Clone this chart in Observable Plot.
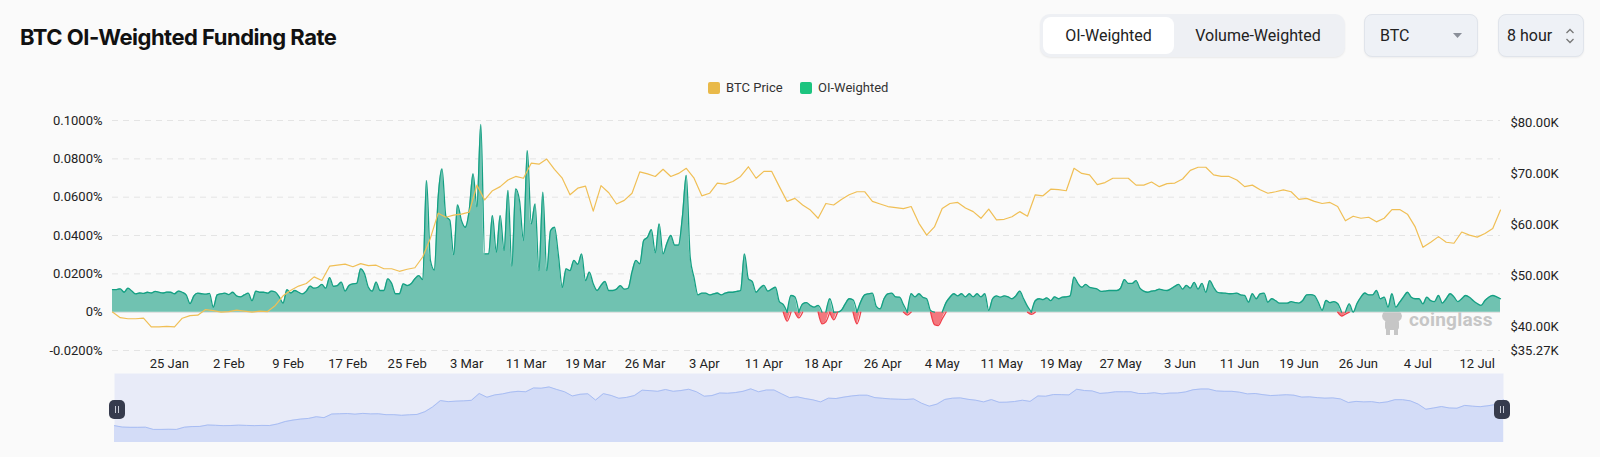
<!DOCTYPE html>
<html><head><meta charset="utf-8">
<script src="https://cdn.jsdelivr.net/npm/d3@7"></script>
<script src="https://cdn.jsdelivr.net/npm/@observablehq/plot@0.6"></script>
<style>
html,body{margin:0;padding:0;background:#fafafa;}
#root{position:relative;width:1600px;height:457px;overflow:hidden;font-family:Roboto,"Noto Sans",sans-serif;color:#1f2329;}
.abs{position:absolute;}
#title{left:20px;top:20px;font-family:Inter,sans-serif;font-weight:700;font-size:22px;letter-spacing:-0.5px;line-height:34px;color:#111;}
.grp{left:1040px;top:14px;width:305px;height:43px;background:#eef0f4;border-radius:10px;box-shadow:0 1px 2px rgba(0,0,0,0.07);}
.btn{height:37px;line-height:37px;text-align:center;font-size:16px;color:#222;}
.sel{top:14px;height:41px;background:#eef1f6;border:1px solid #e0e4eb;border-radius:8px;box-shadow:0 1px 2px rgba(0,0,0,0.05);font-size:16px;line-height:41px;color:#222;}
.leg{top:81px;font-size:13px;line-height:14px;color:#333;}
.sw{width:12px;height:12px;border-radius:2px;top:82px;}
.handle{top:400px;width:16px;height:19px;background:#363b4d;border-radius:5px;}
.handle:before,.handle:after{content:"";position:absolute;top:6px;width:1px;height:7px;background:#c9ccd6;}
.handle:before{left:6px}.handle:after{left:9px}
#wm{left:1409px;top:309px;font-size:19px;font-weight:700;color:#c6c6c6;letter-spacing:0.2px;line-height:22px;}
</style></head>
<body><div id="root">
<div id="title" class="abs">BTC OI-Weighted Funding Rate</div>
<div class="abs grp"></div>
<div class="abs btn" style="left:1043px;top:17px;width:131px;background:#fff;border-radius:8px;">OI-Weighted</div>
<div class="abs btn" style="left:1174px;top:17px;width:168px;">Volume-Weighted</div>
<div class="abs sel" style="left:1364px;width:112px;"><span style="position:absolute;left:15px;">BTC</span>
<svg style="position:absolute;left:88px;top:18px" width="10" height="6"><path d="M0,0 L9,0 L4.5,5 Z" fill="#8a8f99"/></svg></div>
<div class="abs sel" style="left:1498px;width:84px;"><span style="position:absolute;left:8px;">8 hour</span>
<svg style="position:absolute;left:66px;top:13px" width="10" height="16"><path d="M1.5,5 L5,1.5 L8.5,5 M1.5,11 L5,14.5 L8.5,11" stroke="#777" stroke-width="1.3" fill="none"/></svg></div>
<div class="abs sw" style="left:708px;background:#e9b949;"></div>
<div class="abs leg" style="left:726px;">BTC Price</div>
<div class="abs sw" style="left:800px;background:#1cc47f;"></div>
<div class="abs leg" style="left:818px;">OI-Weighted</div>
<svg class="abs" style="left:1380px;top:308px" width="26" height="28"><ellipse cx="12" cy="8" rx="10" ry="7" fill="#c6c6c6"/><rect x="5" y="12" width="14" height="10" rx="3" fill="#c6c6c6"/><rect x="6" y="21" width="4" height="6" fill="#c6c6c6"/><rect x="14" y="21" width="4" height="6" fill="#c6c6c6"/></svg>
<div id="wm" class="abs">coinglass</div>
<div id="chart" class="abs" style="left:0;top:0;"></div>
<div id="slider" class="abs" style="left:0;top:373px;"></div>
<div class="abs handle" style="left:109px;"></div>
<div class="abs handle" style="left:1494px;"></div>
</div>
<script>
// 12-hour OI-weighted funding rate (%), starting 2024-01-18 00:00 UTC
const funding = [
0.0118,0.0118,0.0122,0.0104,0.0125,0.0110,0.0095,0.0100,0.0098,0.0104,
0.0100,0.0108,0.0104,0.0100,0.0105,0.0104,0.0096,0.0110,0.0104,0.0090,
0.0045,0.0085,0.0099,0.0096,0.0094,0.0098,0.0026,0.0090,0.0096,0.0099,
0.0092,0.0104,0.0085,0.0080,0.0090,0.0099,0.0060,0.0110,0.0104,0.0104,
0.0099,0.0110,0.0105,0.0080,0.0047,0.0117,0.0100,0.0113,0.0104,0.0095,
0.0110,0.0136,0.0125,0.0130,0.0145,0.0125,0.0180,0.0135,0.0139,0.0157,
0.0110,0.0139,0.0148,0.0150,0.0226,0.0200,0.0130,0.0110,0.0157,0.0113,
0.0113,0.0174,0.0150,0.0096,0.0096,0.0148,0.0139,0.0148,0.0174,0.0191,
0.0170,0.0687,0.0270,0.0220,0.0600,0.0748,0.0500,0.0480,0.0300,0.0560,
0.0478,0.0443,0.0530,0.0722,0.0550,0.0979,0.0304,0.0304,0.0504,0.0313,
0.0504,0.0322,0.0635,0.0240,0.0643,0.0580,0.0374,0.0843,0.0461,0.0565,
0.0217,0.0626,0.0217,0.0426,0.0443,0.0300,0.0130,0.0226,0.0217,0.0270,
0.0250,0.0304,0.0165,0.0209,0.0148,0.0113,0.0140,0.0160,0.0113,0.0113,
0.0120,0.0139,0.0120,0.0125,0.0210,0.0270,0.0252,0.0374,0.0391,0.0430,
0.0310,0.0461,0.0304,0.0360,0.0400,0.0350,0.0350,0.0500,0.0713,0.0287,
0.0180,0.0090,0.0099,0.0099,0.0090,0.0095,0.0100,0.0090,0.0099,0.0104,
0.0104,0.0108,0.0113,0.0304,0.0174,0.0160,0.0104,0.0125,0.0140,0.0110,
0.0120,0.0130,0.0055,0.0040,-0.0047,0.0087,0.0080,-0.0030,0.0043,0.0050,
0.0035,0.0026,0.0035,-0.0061,-0.0050,0.0070,-0.0040,0.0000,0.0010,0.0043,
0.0070,0.0065,-0.0061,0.0055,0.0090,0.0096,0.0099,0.0030,0.0017,0.0070,
0.0096,0.0099,0.0080,0.0078,0.0040,-0.0015,0.0096,0.0080,0.0096,0.0078,
0.0070,0.0009,-0.0065,-0.0070,-0.0035,0.0050,0.0078,0.0096,0.0085,0.0096,
0.0080,0.0096,0.0080,0.0096,0.0080,0.0096,0.0009,0.0070,0.0085,0.0078,
0.0085,0.0080,0.0070,0.0085,0.0110,0.0070,0.0030,-0.0012,0.0060,0.0070,
0.0065,0.0075,0.0060,0.0080,0.0070,0.0078,0.0080,0.0085,0.0183,0.0150,
0.0130,0.0145,0.0130,0.0125,0.0120,0.0108,0.0110,0.0113,0.0113,0.0113,
0.0125,0.0170,0.0150,0.0150,0.0165,0.0125,0.0110,0.0104,0.0110,0.0113,
0.0120,0.0115,0.0113,0.0122,0.0135,0.0145,0.0120,0.0140,0.0125,0.0155,
0.0120,0.0150,0.0104,0.0165,0.0130,0.0104,0.0100,0.0099,0.0096,0.0097,
0.0099,0.0090,0.0087,0.0052,0.0096,0.0070,0.0095,0.0099,0.0052,0.0070,
0.0060,0.0047,0.0047,0.0047,0.0055,0.0050,0.0047,0.0061,0.0090,0.0092,
0.0087,0.0052,0.0010,0.0061,0.0050,0.0055,0.0045,-0.0020,-0.0010,0.0043,
0.0000,0.0045,0.0078,0.0100,0.0090,0.0090,0.0113,0.0070,0.0078,0.0026,
0.0096,0.0026,0.0052,0.0080,0.0104,0.0078,0.0070,0.0070,0.0043,0.0078,
0.0060,0.0055,0.0087,0.0047,0.0070,0.0096,0.0080,0.0055,0.0070,0.0087,
0.0078,0.0060,0.0045,0.0035,0.0061,0.0078,0.0087,0.0080,0.0070
];
// Daily BTC price (thousand USD), starting 2024-01-18
const price = [
42.8,41.7,41.5,41.5,41.6,39.9,39.9,40.0,39.9,41.6,
42.1,42.2,43.3,43.1,42.8,42.9,43.2,43.0,42.8,43.0,
42.9,44.1,46.0,47.1,47.9,48.4,49.7,49.0,51.8,52.0,
52.2,51.7,52.3,51.9,52.0,51.3,51.3,50.8,51.2,51.5,
53.6,57.3,62.2,61.4,61.8,62.0,62.4,67.7,64.8,66.6,
67.4,68.7,69.4,69.05,72.0,71.8,72.8,70.8,69.05,65.8,
67.1,67.5,62.6,67.6,66.2,64.0,64.7,66.1,70.3,69.9,
69.4,70.8,69.4,70.0,71.0,69.05,65.6,66.1,68.1,67.9,
68.4,69.4,71.3,69.05,70.4,70.4,67.4,64.5,65.1,63.8,
62.8,61.2,64.1,63.8,64.9,65.8,66.4,66.4,64.5,64.0,
63.5,63.3,63.1,63.5,60.2,57.9,59.5,63.1,64.1,64.3,
63.2,62.5,61.2,63.0,60.9,61.0,61.5,62.5,61.6,65.8,
65.6,66.9,66.8,66.6,71.0,70.0,69.7,67.8,68.2,69.05,
69.05,69.05,67.7,67.7,68.3,67.4,68.0,68.1,68.9,70.6,
71.2,71.2,69.7,69.4,69.4,68.7,67.4,67.7,66.8,66.1,
66.4,66.75,66.4,64.9,65.1,64.5,64.1,64.3,63.5,60.7,
61.6,61.2,61.4,60.5,61.2,62.9,62.9,62.0,59.5,55.5,
56.5,57.6,56.5,56.3,58.5,57.9,57.5,58.2,59.2,62.8
];
const xTickDates = ["2024-01-25T08:00Z","2024-02-02T00:00Z","2024-02-09T16:00Z","2024-02-17T08:00Z","2024-02-25T00:00Z","2024-03-03T16:00Z","2024-03-11T08:00Z","2024-03-19T00:00Z","2024-03-26T16:00Z","2024-04-03T08:00Z","2024-04-11T00:00Z","2024-04-18T16:00Z","2024-04-26T08:00Z","2024-05-04T00:00Z","2024-05-11T16:00Z","2024-05-19T08:00Z","2024-05-27T00:00Z","2024-06-03T16:00Z","2024-06-11T08:00Z","2024-06-19T00:00Z","2024-06-26T16:00Z","2024-07-04T08:00Z","2024-07-12T00:00Z"];
const xTickLabels = ["25 Jan","2 Feb","9 Feb","17 Feb","25 Feb","3 Mar","11 Mar","19 Mar","26 Mar","3 Apr","11 Apr","18 Apr","26 Apr","4 May","11 May","19 May","27 May","3 Jun","11 Jun","19 Jun","26 Jun","4 Jul","12 Jul"];
const rateTicks = [-0.02, 0, 0.02, 0.04, 0.06, 0.08, 0.10];
const priceTicks = [35.27, 40, 50, 60, 70, 80];
const priceMin = 35.27, priceMax = 80.37;

const start = Date.UTC(2024,0,18);
const HOUR = 3600e3;
const xDomain = [new Date(start), new Date(Date.UTC(2024,6,15))];
const fund = funding.map((v,i)=>({date:new Date(start+i*12*HOUR), v}));
const prices = price.map((p,i)=>({date:new Date(start+i*24*HOUR), p}));
const toRate = p => -0.02 + (p-priceMin)/(priceMax-priceMin)*0.12;
const fromRate = r => priceMin + (r+0.02)/0.12*(priceMax-priceMin);

// sign runs for stroke colouring
function runs(neg){
  const out=[]; let id=0, inRun=false;
  fund.forEach((d,i)=>{
    const m = neg ? d.v<0 : d.v>=0;
    if(m){
      if(!inRun){ id++; inRun=true; if(i>0) out.push({date:fund[i-1].date, y:0, id}); }
      out.push({date:d.date, y:d.v, id});
    } else if(inRun){ out.push({date:d.date, y:0, id}); inRun=false; }
  });
  return out;
}
const posLine = runs(false), negLine = runs(true);
const labelMap = new Map(xTickDates.map((d,i)=>[+new Date(d), xTickLabels[i]]));

const chart = Plot.plot({
  width:1600, height:375,
  marginLeft:112, marginRight:100, marginTop:120, marginBottom:25,
  style:{background:"transparent", fontFamily:"Roboto, sans-serif"},
  x:{type:"utc", domain:xDomain, label:null},
  y:{domain:[-0.02,0.1], label:null},
  marks:[
    Plot.ruleY(rateTicks.filter(t=>t!==0), {stroke:"#e4e4e4", strokeDasharray:"6,5"}),
    Plot.ruleY([0], {stroke:"#d6d6d6"}),
    Plot.areaY(fund, {x:"date", y1:0, y2:d=>Math.max(d.v,0), curve:"monotone-x", fill:"#70c2b1"}),
    Plot.areaY(fund, {x:"date", y1:0, y2:d=>Math.min(d.v,0), curve:"monotone-x", fill:"#f3787e"}),
    Plot.line(posLine, {x:"date", y:"y", z:"id", curve:"monotone-x", stroke:"#14a083", strokeWidth:1.3}),
    Plot.line(negLine, {x:"date", y:"y", z:"id", curve:"monotone-x", stroke:"#f0404b", strokeWidth:1.3}),
    Plot.line(prices, {x:"date", y:d=>toRate(d.p), stroke:"#f0bf55", strokeWidth:1.2}),
    Plot.axisY(rateTicks, {anchor:"left", label:null, tickSize:0, tickPadding:10, fontSize:13, color:"#222",
      tickFormat:v=>v===0?"0%":v.toFixed(4)+"%"}),
    Plot.axisY(priceTicks.map(toRate), {anchor:"right", label:null, tickSize:0, tickPadding:10, fontSize:13, color:"#222",
      tickFormat:v=>"$"+fromRate(v).toFixed(2)+"K"}),
    Plot.axisX(xTickDates.map(d=>new Date(d)), {anchor:"bottom", label:null, tickSize:0, tickPadding:8, fontSize:13, color:"#222",
      tickFormat:d=>labelMap.get(+d)})
  ]
});
document.getElementById("chart").appendChild(chart);

const slider = Plot.plot({
  width:1600, height:69, marginLeft:114, marginRight:97, marginTop:0, marginBottom:0,
  style:{background:"transparent"},
  x:{type:"utc", domain:xDomain, axis:null},
  y:{domain:[29.75,83.2], axis:null},
  marks:[
    Plot.frame({fill:"#e8ebf8", stroke:null}),
    Plot.areaY(prices, {x:"date", y1:29.75, y2:"p", fill:"#d3dcf7"}),
    Plot.line(prices, {x:"date", y:"p", stroke:"#a8bdf3", strokeWidth:1})
  ]
});
document.getElementById("slider").appendChild(slider);
</script>
</body></html>
